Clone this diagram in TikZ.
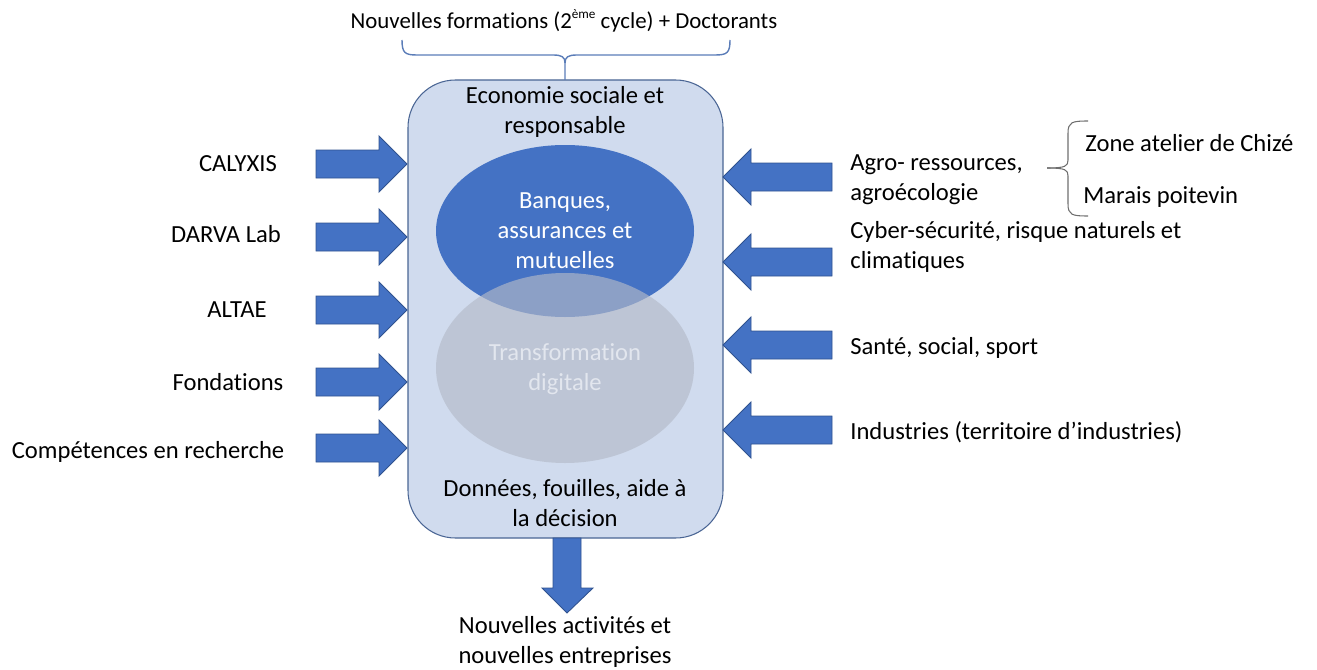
\documentclass[tikz,border=0pt]{standalone}
\usepackage{fontspec}
\setmainfont{Carlito}[Ligatures=NoCommon]
\usetikzlibrary{positioning}
\definecolor{arrowblue}{HTML}{4472C4}
\definecolor{arrowedge}{HTML}{2F528F}
\definecolor{boxfill}{HTML}{D0DBEE}
\definecolor{boxedge}{HTML}{4A6594}
\definecolor{greyell}{HTML}{B4BAC8}
\definecolor{lighttext}{HTML}{E2E6EE}
\definecolor{bracegrey}{HTML}{6E6E6E}
\definecolor{braceblue}{HTML}{5B7DB8}
\tikzset{
    blockarrow/.style={fill=arrowblue, draw=arrowedge, line width=0.5pt},
    label/.style={font=\fontsize{14}{17}\selectfont, align=center, inner sep=0pt},
    sidelabel/.style={label, anchor=west, align=left}
}
\begin{document}
\begin{tikzpicture}[x=0.02cm, y=-0.02cm]
        \useasboundingbox (0,0) rectangle (1317,669);

        % Define the main box
        \coordinate (boxnw) at (408,80);
        \coordinate (boxse) at (723,538);
        \draw[fill=boxfill, draw=boxedge, line width=0.6pt, rounded corners=0.95cm] (boxnw) rectangle (boxse);

        % Draw ellipses
        \coordinate (centerbank) at (565,231);
        \coordinate (centerdigit) at (565,368);
        \fill[arrowblue] (centerbank) ellipse [x radius=129, y radius=86];
        \fill[greyell, opacity=0.65] (centerdigit) ellipse [x radius=129, y radius=95];

        % Label ellipses
        \node (bank) at (centerbank) [label, text=white] {Banques,\\assurances et\\mutuelles};
        \node (digit) at (565,369) [label, text=lighttext] {Transformation\\digitale};

        % Labels inside the box
        \node (eco) at (565,112) [label] {Economie sociale et\\responsable};
        \node (data) at (565,503) [label] {Données, fouilles, aide à\\la décision};

        % Left arrows
        \foreach \y in {164,237,310,382,448}
            \filldraw[blockarrow] (316,\y-14) -- (379,\y-14) -- (379,\y-28) -- (407,\y)
                -- (379,\y+28) -- (379,\y+14) -- (316,\y+14) -- cycle;

        % Right arrows
        \foreach \y in {177,262,345,430}
            \filldraw[blockarrow] (832,\y-14) -- (751,\y-14) -- (751,\y-28) -- (723,\y)
                -- (751,\y+28) -- (751,\y+14) -- (832,\y+14) -- cycle;

        % Bottom arrow
        \filldraw[blockarrow] (553,538) -- (553,588) -- (542,588) -- (567,613)
            -- (593,588) -- (581,588) -- (581,538) -- cycle;

        % Left labels
        \node (calyxis) at (238,164) [label] {CALYXIS};
        \node (darva) at (226,234) [label] {DARVA Lab};
        \node (altae) at (237,310) [label] {ALTAE};
        \node (fond) at (228,382) [label] {Fondations};
        \node (comp) at (148,452) [label] {Compétences en recherche};

        % Right labels
        \node (agro) at (850,180) [sidelabel] {Agro- ressources,\\agroécologie};
        \node (cyber) at (850,247) [sidelabel] {Cyber-sécurité, risque naturels et\\climatiques};
        \node (sante) at (850,348) [sidelabel] {Santé, social, sport};
        \node (indus) at (850,432) [sidelabel] {Industries (territoire d’industries)};

        % Sites of agro-ressources
        \node (chize) at (1085,143) [sidelabel] {Zone atelier de Chizé};
        \node (marais) at (1083,197) [sidelabel] {Marais poitevin};
        \coordinate (bracetip) at (1047,168);
        \draw[bracegrey, line width=0.6pt] (1088,121) .. controls (1072,121) and (1068,122) .. (1068,133)
            -- (1068,160) .. controls (1068,166) and (1066,168) .. (bracetip);
        \draw[bracegrey, line width=0.6pt] (1088,216) .. controls (1072,216) and (1068,215) .. (1068,204)
            -- (1068,176) .. controls (1068,170) and (1066,168) .. (bracetip);

        % Top label and brace
        \node (form) at (564,21) [label, font=\fontsize{13}{16}\selectfont]
            {Nouvelles formations (2\raisebox{0.45em}{\fontsize{7.5}{8}\selectfont ème} cycle) + Doctorants};
        \coordinate (bracedown) at (565,80);
        \draw[braceblue, line width=0.8pt] (402,40) .. controls (402,53) and (405,55) .. (417,55)
            -- (553,55) .. controls (562,55) and (565,57) .. (565,63) -- (bracedown);
        \draw[braceblue, line width=0.8pt] (730,40) .. controls (730,53) and (727,55) .. (715,55)
            -- (577,55) .. controls (568,55) and (565,57) .. (565,63);

        % Bottom label
        \node (newact) at (565,642) [label] {Nouvelles activités et\\nouvelles entreprises};
    \end{tikzpicture}
\end{document}
